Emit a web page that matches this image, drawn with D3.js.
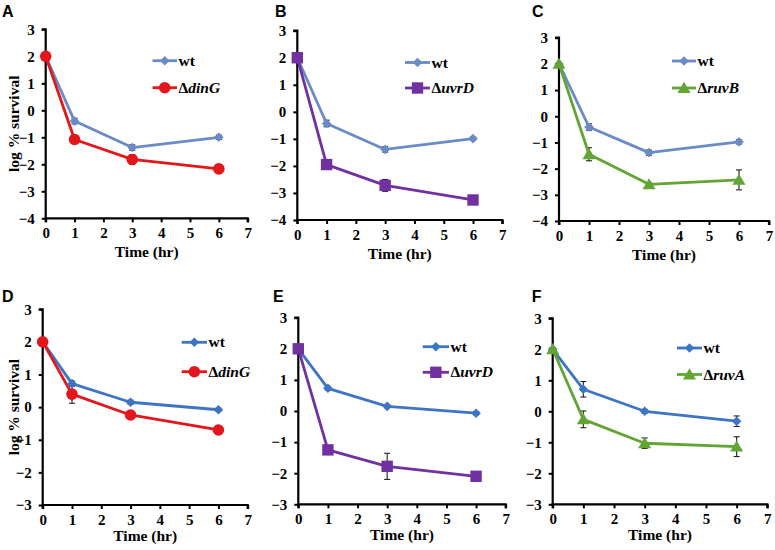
<!DOCTYPE html>
<html>
<head>
<meta charset="utf-8">
<script src="https://cdn.jsdelivr.net/npm/d3@7"></script>
<style>
  html, body { margin: 0; padding: 0; background: #fff; }
  svg { display: block; }
  .serif { font-family: "Liberation Serif", "Times New Roman", Tinos, "DejaVu Serif", serif; font-weight: bold; }
  .sans { font-family: "Liberation Sans", Arial, Arimo, sans-serif; font-weight: bold; }
</style>
</head>
<body>
<svg id="chart" width="775" height="550"></svg>
<script>
// ---------- data ----------
const times = [0, 1, 3, 6];
const xTicks = [0, 1, 2, 3, 4, 5, 6, 7];
const yTicksTop = [3, 2, 1, 0, -1, -2, -3, -4];
const yTicksBottom = [3, 2, 1, 0, -1, -2, -3];
const panelLabels = ["A", "B", "C", "D", "E", "F"];
const mutantGenes = ["dinG", "uvrD", "ruvB", "dinG", "uvrD", "ruvA"];
const wtLabel = "wt";

const wtA = [2, -0.40, -1.38, -1.00];
const wtErrA = [0.05, 0.10, 0.10, 0.08];
const mutA = [2, -1.08, -1.82, -2.17];
const mutErrA = [0.05, 0.10, 0.18, 0.15];

const wtB = [2, -0.43, -1.39, -0.99];
const wtErrB = [0.05, 0.12, 0.10, 0.06];
const mutB = [2, -1.95, -2.72, -3.26];
const mutErrB = [0.05, 0.17, 0.22, 0.15];

const wtC = [2, -0.41, -1.39, -0.98];
const wtErrC = [0.05, 0.12, 0.10, 0.08];
const mutC = [2, -1.45, -2.60, -2.43];
const mutErrC = [0.05, 0.25, 0.06, 0.38];

const wtD = [2, 0.72, 0.15, -0.08];
const wtErrD = [0.05, 0.08, 0.06, 0.05];
const mutD = [2, 0.40, -0.24, -0.70];
const mutErrD = [0.05, 0.28, 0.06, 0.06];

const wtE = [2, 0.73, 0.15, -0.07];
const wtErrE = [0.05, 0.06, 0.05, 0.05];
const mutE = [2, -1.25, -1.78, -2.10];
const mutErrE = [0.05, 0.08, 0.42, 0.06];

const wtF = [2, 0.71, 0.00, -0.32];
const wtErrF = [0.05, 0.25, 0.06, 0.17];
const mutF = [2, -0.26, -1.03, -1.14];
const mutErrF = [0.05, 0.27, 0.17, 0.32];

// ---------- styling / layout ----------
const wtColorTop = "#6a8bc6";
const wtColorBottom = "#3e74c4";
const mutColors = ["#e3161b", "#7131a1", "#62a535", "#e3161b", "#7131a1", "#62a535"];
const mutShapes = ["circle", "square", "triangle", "circle", "square", "triangle"];

const panels = [
  { wt: wtA, wtErr: wtErrA, mut: mutA, mutErr: mutErrA, yTicks: yTicksTop,
    x0: 45.7, x1: 247.7, yTop: 29.3, yBot: 218.3, lab: [2, 16.5], leg: [152.5, 177, 60.7, 87.7], yLabel: true, row: 0 },
  { wt: wtB, wtErr: wtErrB, mut: mutB, mutErr: mutErrB, yTicks: yTicksTop,
    x0: 297.3, x1: 502.3, yTop: 30.7, yBot: 220, lab: [275, 16.5], leg: [405, 430, 62.5, 88], yLabel: false, row: 0 },
  { wt: wtC, wtErr: wtErrC, mut: mutC, mutErr: mutErrC, yTicks: yTicksTop,
    x0: 559, x1: 769, yTop: 37.7, yBot: 221, lab: [532, 16.5], leg: [672, 696, 61, 88], yLabel: false, row: 0 },
  { wt: wtD, wtErr: wtErrD, mut: mutD, mutErr: mutErrD, yTicks: yTicksBottom,
    x0: 42.7, x1: 247.7, yTop: 309.3, yBot: 505, lab: [2, 301.5], leg: [181.7, 207, 342.3, 371.7], yLabel: true, row: 1 },
  { wt: wtE, wtErr: wtErrE, mut: mutE, mutErr: mutErrE, yTicks: yTicksBottom,
    x0: 298.3, x1: 505.7, yTop: 317.7, yBot: 504.3, lab: [273, 301.5], leg: [422.7, 449, 346.7, 372.3], yLabel: false, row: 1 },
  { wt: wtF, wtErr: wtErrF, mut: mutF, mutErr: mutErrF, yTicks: yTicksBottom,
    x0: 552.7, x1: 767.3, yTop: 318.3, yBot: 504.3, lab: [531.7, 301.5], leg: [677, 702, 348, 374.5], yLabel: false, row: 1 }
];

const svg = d3.select("#chart");

function drawMarker(g, shape, x, y, color) {
  if (shape === "diamond") {
    const s = 4.8;
    g.append("path").attr("d", `M${x},${y - s}L${x + s},${y}L${x},${y + s}L${x - s},${y}Z`).attr("fill", color);
  } else if (shape === "circle") {
    g.append("circle").attr("cx", x).attr("cy", y).attr("r", 5.8).attr("fill", color);
  } else if (shape === "square") {
    const s = 5.7;
    g.append("rect").attr("x", x - s).attr("y", y - s).attr("width", 2 * s).attr("height", 2 * s).attr("fill", color);
  } else if (shape === "triangle") {
    const h = 6.2;
    g.append("path").attr("d", `M${x},${y - h}L${x + h * 1.05},${y + h * 0.8}L${x - h * 1.05},${y + h * 0.8}Z`).attr("fill", color);
  }
}

panels.forEach((p, i) => {
  const g = svg.append("g");
  const yMax = d3.max(p.yTicks), yMin = d3.min(p.yTicks);
  const x = d3.scaleLinear().domain([0, 7]).range([p.x0, p.x1]);
  const y = d3.scaleLinear().domain([yMin, yMax]).range([p.yBot, p.yTop]);
  const wtColor = p.row === 0 ? wtColorTop : wtColorBottom;
  const mutColor = mutColors[i];
  const shape = mutShapes[i];

  // axes
  const yAxis = d3.axisLeft(y).tickValues(p.yTicks).tickSize(4).tickPadding(7).tickFormat(d3.format("d"));
  const xAxis = d3.axisBottom(x).tickValues(xTicks).tickSize(4).tickPadding(5).tickFormat(d3.format("d"));
  const ga = g.append("g").attr("transform", `translate(${p.x0},0)`).call(yAxis);
  const gx = g.append("g").attr("transform", `translate(0,${p.yBot})`).call(xAxis);
  [ga, gx].forEach(a => {
    a.attr("font-family", null).attr("font-size", null);
    a.select(".domain").attr("stroke", "#000").attr("stroke-width", 2.2);
    a.selectAll(".tick line").attr("stroke", "#000").attr("stroke-width", 2);
    a.selectAll(".tick text").attr("fill", "#000").attr("class", "serif").style("font-size", "15px");
  });
  ga.select(".domain").attr("d", `M-4,${p.yTop}H0V${p.yBot}`);
  gx.select(".domain").attr("d", `M${p.x0},4V0H${p.x1}V4`);

  // axis titles
  g.append("text").attr("class", "serif").attr("x", (p.x0 + p.x1) / 2).attr("y", p.yBot + (p.row === 0 ? 38.5 : 36))
    .attr("text-anchor", "middle").style("font-size", "15.5px").attr("fill", "#000").text("Time (hr)");
  if (p.yLabel) {
    g.append("text").attr("class", "serif").attr("transform", `translate(19,${(p.yTop + p.yBot) / 2}) rotate(-90)`)
      .attr("text-anchor", "middle").style("font-size", "15.5px").attr("fill", "#000").text("log % survival");
  }

  // panel label
  g.append("text").attr("class", "sans").attr("x", p.lab[0]).attr("y", p.lab[1])
    .style("font-size", "16px").attr("fill", "#000").text(panelLabels[i]);

  // series
  const line = d3.line().x((d, k) => x(times[k])).y(d => y(d));
  const series = [
    { vals: p.wt, err: p.wtErr, color: wtColor, shape: "diamond" },
    { vals: p.mut, err: p.mutErr, color: mutColor, shape: shape }
  ];
  series.forEach(s => {
    s.vals.forEach((v, k) => {
      const cx = x(times[k]);
      const y1 = y(v + s.err[k]), y2 = y(v - s.err[k]);
      g.append("line").attr("x1", cx).attr("x2", cx).attr("y1", y1).attr("y2", y2)
        .attr("stroke", "#222").attr("stroke-width", 1.1);
      [y1, y2].forEach(yy => g.append("line").attr("x1", cx - 3).attr("x2", cx + 3)
        .attr("y1", yy).attr("y2", yy).attr("stroke", "#222").attr("stroke-width", 1.1));
    });
  });
  series.forEach(s => {
    g.append("path").datum(s.vals).attr("d", line).attr("fill", "none")
      .attr("stroke", s.color).attr("stroke-width", 2.8).attr("stroke-linejoin", "round");
  });
  series.forEach(s => {
    s.vals.forEach((v, k) => drawMarker(g, s.shape, x(times[k]), y(v), s.color));
  });

  // legend
  const [lx0, lx1, ly0, ly1] = p.leg;
  series.forEach((s, j) => {
    const ly = j === 0 ? ly0 : ly1;
    g.append("line").attr("x1", lx0).attr("x2", lx1).attr("y1", ly).attr("y2", ly)
      .attr("stroke", s.color).attr("stroke-width", 2.8);
    drawMarker(g, s.shape, (lx0 + lx1) / 2, ly, s.color);
    const t = g.append("text").attr("class", "serif").attr("x", lx1 + 1.5).attr("y", ly + 5)
      .style("font-size", "15.5px").attr("fill", "#000");
    if (j === 0) {
      t.text(wtLabel);
    } else {
      t.append("tspan").text("\u0394");
      t.append("tspan").style("font-style", "italic").text(mutantGenes[i]);
    }
  });
});
</script>
</body>
</html>
